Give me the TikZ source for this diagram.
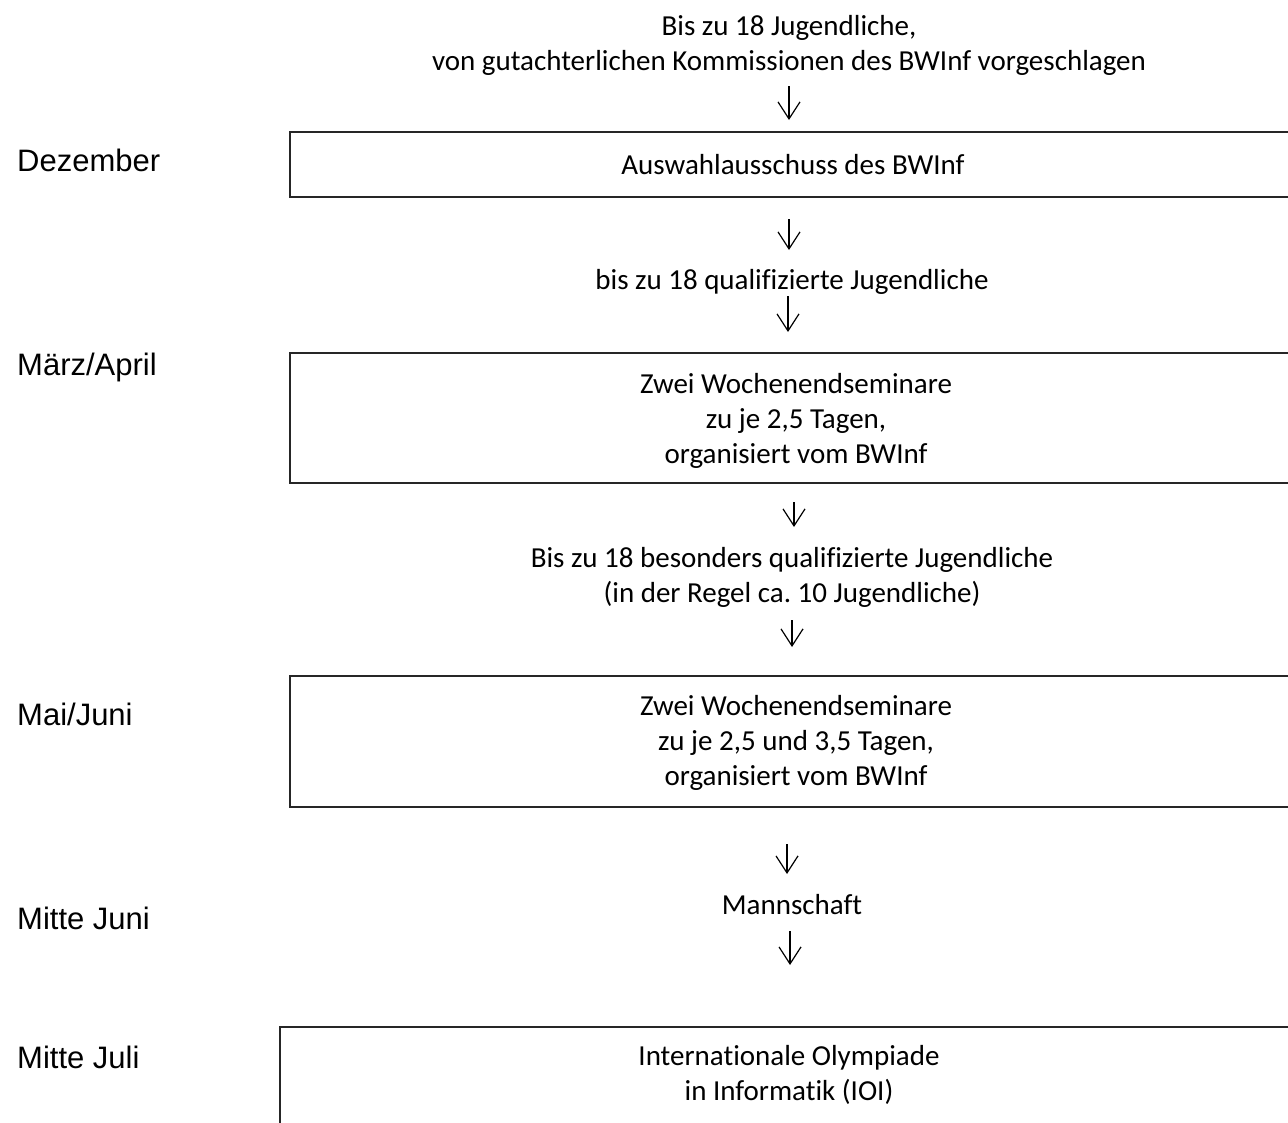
\documentclass[tikz,border=0pt]{standalone}
\usepackage{fontspec}
\setmainfont{Carlito}[Ligatures=NoCommon]
\newfontfamily\arialfont{Liberation Sans}
\usetikzlibrary{arrows.meta}
\frenchspacing

\tikzset{
  txt/.style={align=center, inner sep=0pt, font=\fontsize{29}{35}\selectfont},
  monat/.style={anchor=west, inner sep=0pt, font=\arialfont\fontsize{31}{37}\selectfont},
  kasten/.style={line width=1.6pt, draw=black!85},
  pfeil/.style={line width=1.2pt, -{Straight Barb[length=17pt, width=22pt, line width=1.2pt]}},
}

\begin{document}
\begin{tikzpicture}[x=1pt, y=-1pt]
  \useasboundingbox (0,0) rectangle (1288,1122);
  \clip (0,0) rectangle (1288,1122);

  % linke Spalte
  \node[monat] (dez) at (17,160) {Dezember};
  \node[monat] (mae) at (17,367) {März/April};
  \node[monat] (mai) at (17,714) {Mai/Juni};
  \node[monat] (mju) at (17,918) {Mitte Juni};
  \node[monat] (mjl) at (17,1057) {Mitte Juli};

  % Kaesten
  \draw[kasten] (290,132) rectangle (1320,197);
  \draw[kasten] (290,353) rectangle (1320,483);
  \draw[kasten] (290,676) rectangle (1320,807);
  \draw[kasten] (280,1027) rectangle (1320,1140);

  % Texte
  \node[txt] (start) at (789,45) {Bis zu 18 Jugendliche,\\von gutachterlichen Kommissionen des BWInf vorgeschlagen};
  \node[txt] (aus) at (793,165) {Auswahlausschuss des BWInf};
  \node[txt] (qual) at (792,282) {bis zu 18 qualifizierte Jugendliche};
  \node[txt] (sem1) at (796,421) {Zwei Wochenendseminare\\zu je 2,5 Tagen,\\organisiert vom BWInf};
  \node[txt] (bes) at (792,577) {Bis zu 18 besonders qualifizierte Jugendliche\\(in der Regel ca. 10 Jugendliche)};
  \node[txt] (sem2) at (796,743) {Zwei Wochenendseminare\\zu je 2,5 und 3,5 Tagen,\\organisiert vom BWInf};
  \node[txt] (mann) at (792,905) {Mannschaft};
  \node[txt] (ioi) at (789,1075) {Internationale Olympiade\\in Informatik (IOI)};

  % Pfeile
  \coordinate (p1a) at (789,86);  \coordinate (p1b) at (789,120);
  \coordinate (p2a) at (789,219); \coordinate (p2b) at (789,250);
  \coordinate (p3a) at (788,296); \coordinate (p3b) at (788,332);
  \coordinate (p4a) at (794,502); \coordinate (p4b) at (794,527);
  \coordinate (p5a) at (792,620); \coordinate (p5b) at (792,647);
  \coordinate (p6a) at (787,844); \coordinate (p6b) at (787,874);
  \coordinate (p7a) at (790,931); \coordinate (p7b) at (790,965);
  \foreach \p in {1,...,7}
    \draw[pfeil] (p\p a) -- (p\p b);
\end{tikzpicture}
\end{document}
